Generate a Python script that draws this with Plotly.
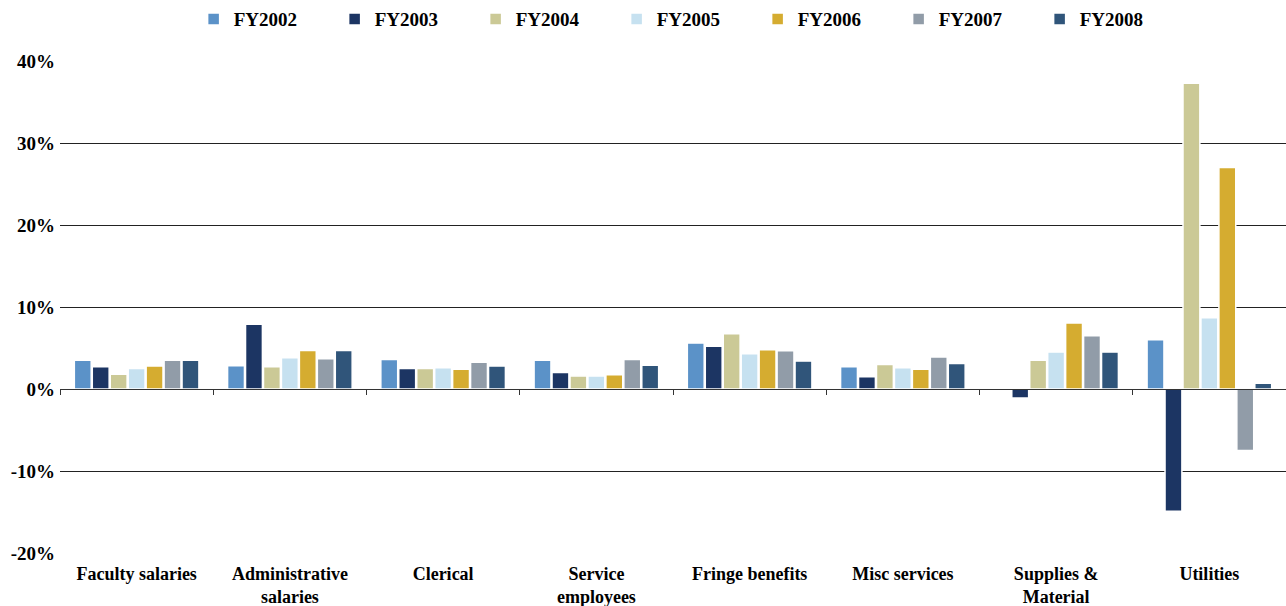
import plotly.graph_objects as go

categories = ["Faculty salaries", "Administrative<br>salaries", "Clerical", "Service<br>employees",
              "Fringe benefits", "Misc services", "Supplies &<br>Material", "Utilities"]
years = ["FY2002", "FY2003", "FY2004", "FY2005", "FY2006", "FY2007", "FY2008"]

fy2002 = [3.5, 2.85, 3.6, 3.5, 5.6, 2.7, 0.0, 6.0]
fy2003 = [2.7, 7.9, 2.5, 2.0, 5.2, 1.5, -1.1, -14.9]
fy2004 = [1.8, 2.7, 2.5, 1.6, 6.75, 3.0, 3.5, 37.3]
fy2005 = [2.5, 3.8, 2.6, 1.6, 4.3, 2.6, 4.5, 8.7]
fy2006 = [2.8, 4.7, 2.4, 1.75, 4.8, 2.4, 8.05, 27.0]
fy2007 = [3.5, 3.7, 3.25, 3.6, 4.65, 3.9, 6.5, -7.5]
fy2008 = [3.5, 4.7, 2.8, 2.9, 3.4, 3.1, 4.5, 0.7]

y_ticks = [-20, -10, 0, 10, 20, 30, 40]
y_ticktext = ["-20%", "-10%", "0%", "10%", "20%", "30%", "40%"]

series = [fy2002, fy2003, fy2004, fy2005, fy2006, fy2007, fy2008]
colors = ["#5b92c8", "#1c3563", "#cbc996", "#c6e1f0", "#d5ac30", "#919ca8", "#30557a"]

FONT = "Liberation Serif, DejaVu Serif, serif"

fig = go.Figure()
for name, vals, col in zip(years, series, colors):
    fig.add_trace(go.Bar(
        x=categories, y=vals, name=name,
        marker={'color': col, 'line': {'color': 'white', 'width': 1.5}},
        xaxis='x', yaxis='y'
    ))

# invisible trace so the bottom label axis knows the categories
fig.add_trace(go.Scatter(x=categories, y=[0] * len(categories), xaxis='x2', yaxis='y',
                         mode='markers', marker={'opacity': 0}, showlegend=False,
                         hoverinfo='skip'))

fig.update_layout(
    width=1286, height=606,
    font={'family': FONT, 'color': 'black', 'size': 18},
    plot_bgcolor='white', paper_bgcolor='white',
    margin={'l': 60, 'r': 0, 't': 61, 'b': 53, 'autoexpand': False},
    barmode='group', bargap=0.18, bargroupgap=0.06,
    showlegend=True,
    legend={
        'orientation': 'h', 'x': 0.109, 'xanchor': 'left', 'y': 1.085, 'yanchor': 'middle',
        'entrywidth': 96, 'entrywidthmode': 'pixels', 'itemwidth': 30,
        'font': {'family': FONT, 'size': 19, 'weight': 'bold'},
        'traceorder': 'normal',
    },
    xaxis={
        'type': 'category', 'anchor': 'free', 'position': 1 / 3,
        'showline': True, 'linecolor': '#333', 'linewidth': 1,
        'ticks': 'outside', 'tickson': 'boundaries', 'ticklen': 5, 'tickcolor': '#333',
        'showticklabels': False, 'showgrid': False, 'zeroline': False,
    },
    xaxis2={
        'type': 'category', 'overlaying': 'x', 'matches': 'x', 'anchor': 'y', 'side': 'bottom',
        'showline': False, 'ticks': '', 'showgrid': False, 'zeroline': False,
        'ticklabelstandoff': 8,
        'tickfont': {'family': FONT, 'size': 18, 'weight': 'bold'},
    },
    yaxis={
        'range': [-20, 40], 'tickvals': y_ticks, 'ticktext': y_ticktext,
        'showgrid': True, 'gridcolor': '#222', 'gridwidth': 1,
        'zeroline': False, 'showline': False, 'ticklabelstandoff': 4,
        'tickfont': {'family': FONT, 'size': 19, 'weight': 'bold'},
    },
)

fig.write_html("out.html", config={'displayModeBar': False},
               post_script="document.body.style.margin='0';")
